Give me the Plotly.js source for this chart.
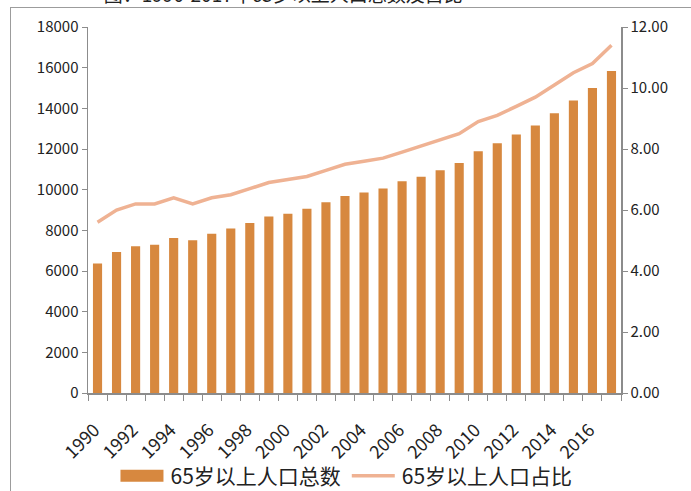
<!DOCTYPE html>
<html>
<head>
<meta charset="utf-8">
<script src="https://cdn.plot.ly/plotly-3.0.1.min.js"></script>
<style>
  html, body { margin: 0; padding: 0; background: #fff; }
  #wrap { position: relative; width: 691px; height: 491px; overflow: hidden; }
  #chart { width: 691px; height: 491px; }
  #frame { position: absolute; left: 10px; top: 7px; width: 720px; height: 520px;
           border: 1.5px solid #9c9c9c; pointer-events: none; box-sizing: border-box; }
</style>
</head>
<body>
<div id="wrap">
  <div id="chart"></div>
  <div id="frame"></div>
</div>
<script>
const years = [1990,1991,1992,1993,1994,1995,1996,1997,1998,1999,2000,2001,2002,2003,
               2004,2005,2006,2007,2008,2009,2010,2011,2012,2013,2014,2015,2016,2017];
const population65 = [6368,6938,7218,7289,7622,7510,7833,8085,8359,8679,8821,9062,9377,9692,
                      9857,10055,10419,10636,10956,11307,11894,12288,12714,13161,13755,14386,15003,15831];
const share65 = [5.6,6.0,6.2,6.2,6.4,6.2,6.4,6.5,6.7,6.9,7.0,7.1,7.3,7.5,
                 7.6,7.7,7.9,8.1,8.3,8.5,8.9,9.1,9.4,9.7,10.1,10.5,10.8,11.4];
const xTickLabels = ["1990","1992","1994","1996","1998","2000","2002","2004","2006","2008","2010","2012","2014","2016"];
const seriesNames = ["65岁以上人口总数","65岁以上人口占比"];
const titleText = "图：1990-2017年65岁以上人口总数及占比";

const font = "'Noto Sans CJK SC', 'Noto Sans', sans-serif";

const traces = [
  {
    type: 'bar', x: years, y: population65, name: seriesNames[0],
    marker: { color: '#D7883F' }, yaxis: 'y'
  },
  {
    type: 'scatter', mode: 'lines', x: years, y: share65, name: seriesNames[1],
    line: { color: '#EFB293', width: 3.5 }, yaxis: 'y2'
  }
];

const layout = {
  width: 691, height: 491,
  paper_bgcolor: '#ffffff', plot_bgcolor: '#ffffff',
  margin: { l: 88, r: 70, t: 27, b: 98, autoexpand: false },
  font: { family: font, color: '#222', size: 15 },
  title: { text: titleText, font: { family: font, size: 19, color: '#222' },
           xref: 'container', x: 0.41, xanchor: 'center',
           yref: 'container', y: 0.996, yanchor: 'bottom', automargin: false },
  bargap: 0.52,
  showlegend: true,
  legend: { orientation: 'h', x: 0.484, xanchor: 'center', y: -0.227, yanchor: 'middle',
            font: { family: font, size: 21, color: '#222' }, itemwidth: 46,
            bgcolor: 'rgba(0,0,0,0)' },
  xaxis: {
    range: [1989.5, 2017.5],
    tickmode: 'array', tickvals: xTickLabels.map(Number), ticktext: xTickLabels,
    tickangle: -45, ticks: '', ticklabelstandoff: 18, ticklabelshift: -3,
    showgrid: false, zeroline: false, automargin: false,
    showline: true, linecolor: '#8c8c8c', linewidth: 1.5,
    tickfont: { family: font, size: 18, color: '#222' },
    minor: { tick0: 1989.5, dtick: 1, ticks: 'outside', ticklen: 6, tickcolor: '#8c8c8c', tickwidth: 1, showgrid: false }
  },
  yaxis: {
    range: [0, 18000], dtick: 2000, tick0: 0, tickformat: 'd', automargin: false,
    ticks: 'outside', ticklen: 5, tickcolor: '#8c8c8c',
    showline: true, linecolor: '#8c8c8c', linewidth: 1.5,
    showgrid: false, zeroline: false,
    tickfont: { family: font, size: 15, color: '#222' }
  },
  yaxis2: {
    overlaying: 'y', side: 'right', automargin: false,
    range: [0, 12], dtick: 2, tick0: 0, tickformat: '.2f',
    ticks: 'outside', ticklen: 5, tickcolor: '#8c8c8c',
    showline: true, linecolor: '#8c8c8c', linewidth: 1.5,
    showgrid: false, zeroline: false,
    tickfont: { family: font, size: 15, color: '#222' }
  }
};

Plotly.newPlot('chart', traces, layout, { displayModeBar: false, staticPlot: true }).then(function (gd) {
  // widen the legend swatches like the original spreadsheet legend
  gd.querySelectorAll('.legend .traces').forEach(function (item) {
    const txt = item.querySelector('text.legendtext');
    if (!txt) return;
    const textLeft = txt.getBoundingClientRect().left;
    const sx0 = textLeft - 50, sx1 = textLeft - 7;
    item.querySelectorAll('path').forEach(function (p) {
      const d = p.getAttribute('d') || '';
      const r = p.getBoundingClientRect();
      if (/^M6,6H-6V-6H6Z/.test(d)) {
        const off = r.left + 6;
        p.setAttribute('d', 'M' + (sx0 - off) + ',6H' + (sx1 - off) + 'V-6H' + (sx0 - off) + 'Z');
      } else if (/^M5,0h/.test(d)) {
        const off = r.left - 5;
        p.setAttribute('d', 'M' + (sx0 - off) + ',0H' + (sx1 - off));
      }
    });
  });
});
</script>
</body>
</html>
